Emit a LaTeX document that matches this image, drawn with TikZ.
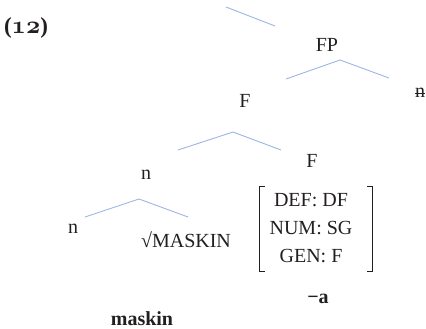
\documentclass[tikz,border=0pt]{standalone}
\usepackage{fontspec}
\setmainfont{Liberation Serif}
\usepackage{tikz}
\usetikzlibrary{positioning}
\usepackage{xcolor}
\definecolor{branch}{HTML}{9DB5E4}
\definecolor{ink}{HTML}{231F20}

\tikzset{
  lbl/.style={font=\fontsize{20}{24}\selectfont,text=ink},
  bold/.style={font=\fontsize{20}{24}\selectfont\bfseries,text=ink},
  twig/.style={branch,line width=0.9pt},
  brk/.style={ink,line width=0.9pt}
}

\begin{document}
\begin{tikzpicture}[x=1pt,y=-1pt]
  \useasboundingbox (0,0) rectangle (426,329);

  \node[bold,font=\fontsize{23}{26}\selectfont\bfseries] (ex) at (26,28)
    {({\usefont{OML}{cmm}{b}{it}12})};

  % tree labels
  \node[lbl] (fp) at (327,45) {FP};
  \node[lbl,inner sep=0pt] (nstr) at (420,93) {n};
  \draw[ink,line width=0.7pt] (nstr.west) -- (nstr.east);
  \node[lbl] (f1) at (245,101) {F};
  \node[lbl] (f2) at (312,161) {F};
  \node[lbl] (n1) at (146,175) {n};
  \node[lbl] (n2) at (73,229) {n};
  \node[lbl] (root) at (186,240) {√MASKIN};

  % feature bundle
  \node[font=\fontsize{20}{28}\selectfont,text=ink,inner sep=0pt,
        minimum width=112,minimum height=79] (feat) at (316,229)
    {\begin{tabular}{@{}c@{}}DEF: DF\\NUM: SG\\GEN: F\end{tabular}\hspace*{10pt}};
  \draw[brk] ([xshift=5pt]feat.north west) -- (feat.north west)
    -- (feat.south west) -- ([xshift=5pt]feat.south west);
  \draw[brk] ([xshift=-5pt]feat.north east) -- (feat.north east)
    -- (feat.south east) -- ([xshift=-5pt]feat.south east);

  \node[bold] (suf) at (318,299) {−a};
  \node[bold] (form) at (142,319) {maskin};

  % branches
  \coordinate (t-l) at (226,7);
  \coordinate (t-r) at (275,26);
  \coordinate (fp-l) at (286,79);
  \coordinate (fp-a) at (340,60);
  \coordinate (fp-r) at (389,78);
  \coordinate (f-l) at (178,150);
  \coordinate (f-a) at (233,132);
  \coordinate (f-r) at (281,150);
  \coordinate (n-l) at (85,217);
  \coordinate (n-a) at (139,199);
  \coordinate (n-r) at (188,217);

  \draw[twig] (t-l) -- (t-r);
  \draw[twig] (fp-l) -- (fp-a) -- (fp-r);
  \draw[twig] (f-l) -- (f-a) -- (f-r);
  \draw[twig] (n-l) -- (n-a) -- (n-r);
\end{tikzpicture}
\end{document}
